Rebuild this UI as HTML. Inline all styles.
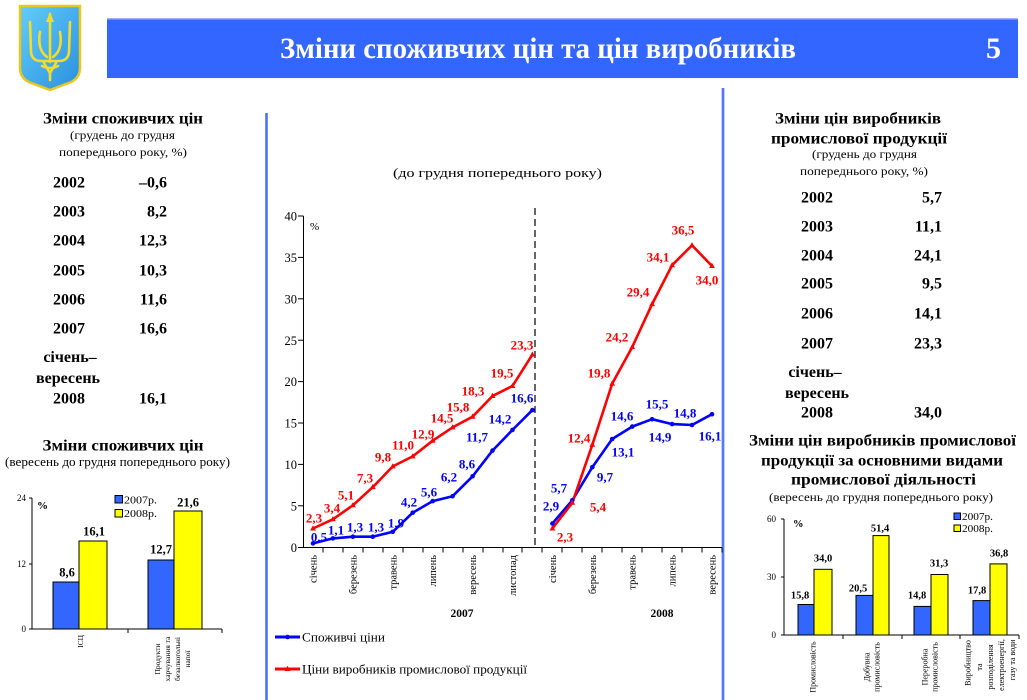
<!DOCTYPE html>
<html><head><meta charset="utf-8">
<style>
html,body{margin:0;padding:0;background:#fff;}
svg{display:block;}
text{font-family:"Liberation Serif","Noto Serif CJK SC",serif;}
</style></head>
<body>
<svg width="1027" height="700" viewBox="0 0 1027 700" xmlns="http://www.w3.org/2000/svg">
<defs>
<linearGradient id="sh" x1="0" y1="0" x2="1" y2="1">
<stop offset="0" stop-color="#62cdf7"/><stop offset="1" stop-color="#2a8fe0"/>
</linearGradient>
<linearGradient id="vl" x1="0" y1="0" x2="1" y2="0">
<stop offset="0" stop-color="#8ea8ff"/><stop offset="0.5" stop-color="#3a62ff"/><stop offset="1" stop-color="#8ea8ff"/>
</linearGradient>
<path id="tri" d="M0,-3.2 L2.9,2 L-2.9,2 Z"/>
</defs>
<rect width="1027" height="700" fill="#fff"/>

<!-- coat of arms -->
<path d="M20,6 L80,6 L80,68 Q80,80 66,84 L50,90 L34,84 Q20,80 20,68 Z" fill="url(#sh)" stroke="#e9c81e" stroke-width="2.5"/>
<g fill="none" stroke="#f4dc2a" stroke-width="2.6" stroke-linecap="round" stroke-linejoin="round">
<path d="M50,14 L50,62"/>
<path d="M30,22 L31,52 Q32,61 41,61 L59,61 Q68,61 69,52 L70,22"/>
<path d="M40,32 Q37,50 47,57"/>
<path d="M60,32 Q63,50 53,57"/>
<path d="M44,63 L50,73 L56,63"/>
<path d="M50,73 L50,80"/>
<path d="M42,66 Q50,70 58,66"/>
</g>
<path d="M50,12 L46,22 L54,22 Z" fill="#f4dc2a"/>

<!-- header banner -->
<rect x="107" y="18" width="911" height="60" fill="#3366ff"/>
<rect x="107" y="18" width="911" height="1.5" fill="#9fb4ff"/>
<text x="280" y="58" font-size="30" font-weight="bold" fill="#fff" textLength="516" lengthAdjust="spacingAndGlyphs">Зміни споживчих цін та цін виробників</text>
<text x="986" y="58" font-size="30" font-weight="bold" fill="#fff">5</text>

<!-- vertical dividers -->
<rect x="265" y="113" width="3" height="587" fill="url(#vl)"/>
<rect x="721.5" y="88" width="3" height="612" fill="url(#vl)"/>

<!-- LEFT TABLE -->
<text x="123" y="123.5" font-size="16" font-weight="bold" text-anchor="middle" textLength="160" lengthAdjust="spacingAndGlyphs">Зміни споживчих цін</text>
<text x="122.5" y="139" font-size="12" text-anchor="middle" textLength="105" lengthAdjust="spacingAndGlyphs">(грудень до грудня</text>
<text x="123" y="156" font-size="12" text-anchor="middle" textLength="128" lengthAdjust="spacingAndGlyphs">попереднього року, %)</text>
<g font-size="16" font-weight="bold">
<g text-anchor="middle">
<text x="69" y="187.5">2002</text>
<text x="69" y="216.5">2003</text>
<text x="69" y="245.5">2004</text>
<text x="69" y="275.5">2005</text>
<text x="69" y="304.5">2006</text>
<text x="69" y="333.5">2007</text>
<text x="70" y="362">січень–</text>
<text x="68" y="383">вересень</text>
<text x="69" y="403.5">2008</text>
</g>
<g text-anchor="end">
<text x="167" y="187.5">–0,6</text>
<text x="167" y="216.5">8,2</text>
<text x="167" y="245.5">12,3</text>
<text x="167" y="275.5">10,3</text>
<text x="167" y="304.5">11,6</text>
<text x="167" y="333.5">16,6</text>
<text x="167" y="403.5">16,1</text>
</g>
</g>

<!-- LEFT BOTTOM CHART -->
<text x="123" y="450.5" font-size="16" font-weight="bold" text-anchor="middle" textLength="161" lengthAdjust="spacingAndGlyphs">Зміни споживчих цін</text>
<text x="117.5" y="466" font-size="12.5" text-anchor="middle" textLength="225" lengthAdjust="spacingAndGlyphs">(вересень до грудня попереднього року)</text>
<g stroke="#000" stroke-width="1">
<line x1="32" y1="498" x2="32" y2="629"/>
<line x1="32" y1="629" x2="222" y2="629"/>
<line x1="29" y1="498" x2="32" y2="498"/>
<line x1="29" y1="564" x2="32" y2="564"/>
<line x1="29" y1="629" x2="32" y2="629"/>
<line x1="128" y1="629" x2="128" y2="633"/>
<line x1="222" y1="629" x2="222" y2="633"/>
</g>
<g font-size="9" text-anchor="end">
<text x="26" y="501">24</text>
<text x="26" y="567">12</text>
<text x="26" y="632">0</text>
</g>
<text x="37" y="509" font-size="11" font-weight="bold">%</text>
<g stroke="#000" stroke-width="1">
<rect x="53" y="582" width="26" height="47" fill="#3366ff"/>
<rect x="79" y="541" width="28" height="88" fill="#ffff00"/>
<rect x="148" y="560" width="26" height="69" fill="#3366ff"/>
<rect x="174" y="511" width="28" height="118" fill="#ffff00"/>
<rect x="115" y="495.5" width="7.5" height="7.5" fill="#3366ff"/>
<rect x="115" y="509.5" width="7.5" height="7.5" fill="#ffff00"/>
</g>
<g font-size="10.5">
<text x="124" y="503.5" textLength="33" lengthAdjust="spacingAndGlyphs">2007р.</text>
<text x="124" y="517" textLength="33" lengthAdjust="spacingAndGlyphs">2008р.</text>
</g>
<g font-size="12.5" font-weight="bold" text-anchor="middle">
<text x="67" y="576.5">8,6</text>
<text x="94" y="535.5">16,1</text>
<text x="161" y="553.5">12,7</text>
<text x="188" y="506.5">21,6</text>
</g>
<g font-size="7.5">
<text transform="translate(83,635) rotate(-90)" text-anchor="end">ІСЦ</text>
<text transform="translate(160,659) rotate(-90)" text-anchor="middle">Продукти</text>
<text transform="translate(170,659) rotate(-90)" text-anchor="middle">харчування та</text>
<text transform="translate(180,659) rotate(-90)" text-anchor="middle">безалкогольні</text>
<text transform="translate(190,659) rotate(-90)" text-anchor="middle">напої</text>
</g>

<!-- CENTER CHART -->
<text x="497.5" y="177" font-size="13" text-anchor="middle" textLength="209" lengthAdjust="spacingAndGlyphs">(до грудня попереднього року)</text>
<g stroke="#000" stroke-width="1">
<line x1="303.5" y1="216" x2="303.5" y2="547.5"/>
<line x1="303.5" y1="547.5" x2="722" y2="547.5"/>
<line x1="298" y1="216" x2="303.5" y2="216"/>
<line x1="298" y1="257.4" x2="303.5" y2="257.4"/>
<line x1="298" y1="298.8" x2="303.5" y2="298.8"/>
<line x1="298" y1="340.2" x2="303.5" y2="340.2"/>
<line x1="298" y1="381.6" x2="303.5" y2="381.6"/>
<line x1="298" y1="423" x2="303.5" y2="423"/>
<line x1="298" y1="464.4" x2="303.5" y2="464.4"/>
<line x1="298" y1="505.8" x2="303.5" y2="505.8"/>
<line x1="298" y1="547.5" x2="303.5" y2="547.5"/>
<path d="M323,547.5v5M343,547.5v5M363,547.5v5M383,547.5v5M403,547.5v5M423,547.5v5M443,547.5v5M463,547.5v5M483,547.5v5M503,547.5v5M522,547.5v5M542,547.5v5M562,547.5v5M582,547.5v5M602,547.5v5M622,547.5v5M642,547.5v5M662,547.5v5M682,547.5v5M702,547.5v5M722,547.5v5"/>
</g>
<line x1="535" y1="208" x2="535" y2="547" stroke="#000" stroke-width="1.2" stroke-dasharray="7,4"/>
<g font-size="12.5" text-anchor="end">
<text x="297" y="220.5">40</text>
<text x="297" y="262">35</text>
<text x="297" y="303.5">30</text>
<text x="297" y="345">25</text>
<text x="297" y="386">20</text>
<text x="297" y="427.5">15</text>
<text x="297" y="469">10</text>
<text x="297" y="510.5">5</text>
<text x="297" y="552">0</text>
</g>
<text x="310" y="230" font-size="11">%</text>

<!-- series lines -->
<g fill="none" stroke-width="2.6" stroke-linejoin="round">
<polyline stroke="#ff0000" points="313,528.5 332.9,519.3 352.9,505.3 372.8,487.1 392.8,466.4 412.7,456.4 432.7,440.7 452.6,427.4 472.6,416.7 492.5,396 512.5,386 532.4,354.6"/>
<polyline stroke="#0000ff" points="313,543.4 332.9,538.4 352.9,536.7 372.8,536.7 392.8,531.8 412.7,512.7 432.7,501.1 452.6,496.2 472.6,476.3 492.5,450.6 512.5,429.9 532.4,410.1"/>
<polyline stroke="#0000ff" points="552.4,523.5 572.3,500.3 592.3,467.2 612.2,439 632.2,426.6 652.1,419.2 672.1,424.1 692,425 712,414.2"/>
<polyline stroke="#ff0000" points="552.4,528.5 572.3,502.8 592.3,444.8 612.2,383.6 632.2,347.1 652.1,304.1 672.1,265.2 692,245.3 712,266"/>
</g>
<g fill="#0000ff">
<circle cx="313" cy="543.4" r="2.3"/><circle cx="332.9" cy="538.4" r="2.3"/><circle cx="352.9" cy="536.7" r="2.3"/><circle cx="372.8" cy="536.7" r="2.3"/><circle cx="392.8" cy="531.8" r="2.3"/><circle cx="412.7" cy="512.7" r="2.3"/><circle cx="432.7" cy="501.1" r="2.3"/><circle cx="452.6" cy="496.2" r="2.3"/><circle cx="472.6" cy="476.3" r="2.3"/><circle cx="492.5" cy="450.6" r="2.3"/><circle cx="512.5" cy="429.9" r="2.3"/><circle cx="532.4" cy="410.1" r="2.3"/>
<circle cx="552.4" cy="523.5" r="2.3"/><circle cx="572.3" cy="500.3" r="2.3"/><circle cx="592.3" cy="467.2" r="2.3"/><circle cx="612.2" cy="439" r="2.3"/><circle cx="632.2" cy="426.6" r="2.3"/><circle cx="652.1" cy="419.2" r="2.3"/><circle cx="672.1" cy="424.1" r="2.3"/><circle cx="692" cy="425" r="2.3"/><circle cx="712" cy="414.2" r="2.3"/>
</g>
<g fill="#ff0000">
<use href="#tri" x="313" y="528.5"/><use href="#tri" x="332.9" y="519.3"/><use href="#tri" x="352.9" y="505.3"/><use href="#tri" x="372.8" y="487.1"/><use href="#tri" x="392.8" y="466.4"/><use href="#tri" x="412.7" y="456.4"/><use href="#tri" x="432.7" y="440.7"/><use href="#tri" x="452.6" y="427.4"/><use href="#tri" x="472.6" y="416.7"/><use href="#tri" x="492.5" y="396"/><use href="#tri" x="512.5" y="386"/><use href="#tri" x="532.4" y="354.6"/>
<use href="#tri" x="552.4" y="528.5"/><use href="#tri" x="572.3" y="502.8"/><use href="#tri" x="592.3" y="444.8"/><use href="#tri" x="612.2" y="383.6"/><use href="#tri" x="632.2" y="347.1"/><use href="#tri" x="652.1" y="304.1"/><use href="#tri" x="672.1" y="265.2"/><use href="#tri" x="692" y="245.3"/><use href="#tri" x="712" y="266"/>
</g>

<!-- data labels -->
<g font-size="13" font-weight="bold" text-anchor="middle" fill="#ff0000">
<text x="314" y="522.5">2,3</text>
<text x="332" y="512.5">3,4</text>
<text x="346" y="499.5">5,1</text>
<text x="365" y="482.5">7,3</text>
<text x="383" y="461.5">9,8</text>
<text x="403" y="449.5">11,0</text>
<text x="423" y="438.5">12,9</text>
<text x="442" y="422.5">14,5</text>
<text x="458" y="411.5">15,8</text>
<text x="473" y="395.5">18,3</text>
<text x="502" y="377.5">19,5</text>
<text x="522" y="349.5">23,3</text>
<text x="565" y="541.5">2,3</text>
<text x="598" y="511.5">5,4</text>
<text x="579" y="442.5">12,4</text>
<text x="599" y="377.5">19,8</text>
<text x="617" y="341.5">24,2</text>
<text x="638" y="296.5">29,4</text>
<text x="658" y="261.5">34,1</text>
<text x="683" y="234.5">36,5</text>
<text x="707" y="284.5">34,0</text>
</g>
<g font-size="13" font-weight="bold" text-anchor="middle" fill="#0000ff">
<text x="319" y="541.5">0,5</text>
<text x="336" y="534.5">1,1</text>
<text x="355" y="531.5">1,3</text>
<text x="376" y="531.5">1,3</text>
<text x="396" y="527.5">1,9</text>
<text x="409" y="506.5">4,2</text>
<text x="429" y="496.5">5,6</text>
<text x="449" y="481.5">6,2</text>
<text x="467" y="468.5">8,6</text>
<text x="477" y="441.5">11,7</text>
<text x="500" y="423.5">14,2</text>
<text x="522" y="402.5">16,6</text>
<text x="551" y="510.5">2,9</text>
<text x="559" y="492.5">5,7</text>
<text x="605" y="481.5">9,7</text>
<text x="623" y="456.5">13,1</text>
<text x="622" y="420.5">14,6</text>
<text x="657" y="408.5">15,5</text>
<text x="660" y="441.5">14,9</text>
<text x="685" y="417.5">14,8</text>
<text x="710" y="440.5">16,1</text>
</g>

<!-- x category labels -->
<g font-size="10.5" text-anchor="end">
<text transform="translate(316.5,555) rotate(-90)">січень</text>
<text transform="translate(356.4,555) rotate(-90)">березень</text>
<text transform="translate(396.3,555) rotate(-90)">травень</text>
<text transform="translate(436.2,555) rotate(-90)">липень</text>
<text transform="translate(476.1,555) rotate(-90)">вересень</text>
<text transform="translate(516,555) rotate(-90)">листопад</text>
<text transform="translate(555.9,555) rotate(-90)">січень</text>
<text transform="translate(595.8,555) rotate(-90)">березень</text>
<text transform="translate(635.7,555) rotate(-90)">травень</text>
<text transform="translate(675.6,555) rotate(-90)">липень</text>
<text transform="translate(715.5,555) rotate(-90)">вересень</text>
</g>
<g font-size="11.5" font-weight="bold" text-anchor="middle">
<text x="462" y="617">2007</text>
<text x="662" y="617">2008</text>
</g>

<!-- legend -->
<line x1="275" y1="637" x2="300" y2="637" stroke="#0000ff" stroke-width="3"/>
<circle cx="287.5" cy="637" r="2.3" fill="#0000ff"/>
<text x="302" y="641.5" font-size="13" textLength="83" lengthAdjust="spacingAndGlyphs">Споживчі ціни</text>
<line x1="275" y1="669" x2="300" y2="669" stroke="#ff0000" stroke-width="3"/>
<use href="#tri" x="287.5" y="669" fill="#ff0000"/>
<text x="302" y="673.5" font-size="13" textLength="225" lengthAdjust="spacingAndGlyphs">Ціни виробників промислової продукції</text>

<!-- RIGHT TABLE -->
<g font-weight="bold" text-anchor="middle">
<text x="858" y="123.5" font-size="16" textLength="166" lengthAdjust="spacingAndGlyphs">Зміни цін виробників</text>
<text x="859" y="143.5" font-size="16" textLength="176" lengthAdjust="spacingAndGlyphs">промислової продукції</text>
</g>
<text x="864.5" y="158" font-size="12" text-anchor="middle" textLength="105" lengthAdjust="spacingAndGlyphs">(грудень до грудня</text>
<text x="864" y="175" font-size="12" text-anchor="middle" textLength="128" lengthAdjust="spacingAndGlyphs">попереднього року, %)</text>
<g font-size="16" font-weight="bold">
<g text-anchor="middle">
<text x="817" y="202.5">2002</text>
<text x="817" y="231.5">2003</text>
<text x="817" y="260.5">2004</text>
<text x="817" y="288.5">2005</text>
<text x="817" y="318.5">2006</text>
<text x="817" y="348.5">2007</text>
<text x="815" y="377">січень–</text>
<text x="817" y="398">вересень</text>
<text x="817" y="417.5">2008</text>
</g>
<g text-anchor="end">
<text x="942" y="202.5">5,7</text>
<text x="942" y="231.5">11,1</text>
<text x="942" y="260.5">24,1</text>
<text x="942" y="288.5">9,5</text>
<text x="942" y="318.5">14,1</text>
<text x="942" y="348.5">23,3</text>
<text x="942" y="417.5">34,0</text>
</g>
</g>

<!-- RIGHT BOTTOM CHART -->
<g font-size="16" font-weight="bold" text-anchor="middle">
<text x="882.5" y="445.5" textLength="267" lengthAdjust="spacingAndGlyphs">Зміни цін виробників промислової</text>
<text x="882" y="465.5" textLength="242" lengthAdjust="spacingAndGlyphs">продукції за основними видами</text>
<text x="883.5" y="484.5" textLength="185" lengthAdjust="spacingAndGlyphs">промислової діяльності</text>
</g>
<text x="881" y="501" font-size="12" text-anchor="middle" textLength="224" lengthAdjust="spacingAndGlyphs">(вересень до грудня попереднього року)</text>
<g stroke="#000" stroke-width="1">
<line x1="784" y1="519" x2="784" y2="635"/>
<line x1="784" y1="635" x2="1019" y2="635"/>
<line x1="781" y1="519" x2="784" y2="519"/>
<line x1="781" y1="577" x2="784" y2="577"/>
<line x1="781" y1="635" x2="784" y2="635"/>
<path d="M843,635v4M902,635v4M960,635v4M1019,635v4"/>
</g>
<g font-size="9" text-anchor="end">
<text x="776" y="522">60</text>
<text x="776" y="580">30</text>
<text x="776" y="638">0</text>
</g>
<text x="793" y="527" font-size="10.5" font-weight="bold">%</text>
<g stroke="#000" stroke-width="1">
<rect x="798" y="604.5" width="16" height="30.5" fill="#3366ff"/>
<rect x="814" y="569.3" width="18" height="65.7" fill="#ffff00"/>
<rect x="856" y="595.4" width="17" height="39.6" fill="#3366ff"/>
<rect x="873" y="535.6" width="16" height="99.4" fill="#ffff00"/>
<rect x="914" y="606.4" width="17" height="28.6" fill="#3366ff"/>
<rect x="931" y="574.5" width="17" height="60.5" fill="#ffff00"/>
<rect x="973" y="600.6" width="17" height="34.4" fill="#3366ff"/>
<rect x="990" y="563.9" width="17" height="71.1" fill="#ffff00"/>
<rect x="954" y="513" width="6.5" height="6.5" fill="#3366ff"/>
<rect x="954" y="525" width="6.5" height="6.5" fill="#ffff00"/>
</g>
<g font-size="10.5">
<text x="962" y="520" textLength="31" lengthAdjust="spacingAndGlyphs">2007р.</text>
<text x="962" y="532" textLength="31" lengthAdjust="spacingAndGlyphs">2008р.</text>
</g>
<g font-size="10.5" font-weight="bold" text-anchor="middle">
<text x="800" y="598.5">15,8</text>
<text x="823" y="561.5">34,0</text>
<text x="858" y="591.5">20,5</text>
<text x="880" y="531.5">51,4</text>
<text x="917" y="598.5">14,8</text>
<text x="939" y="566.5">31,3</text>
<text x="977" y="593.5">17,8</text>
<text x="999" y="556.5">36,8</text>
</g>
<g font-size="8" text-anchor="middle">
<text transform="translate(815.5,667) rotate(-90)">Промисловість</text>
<text transform="translate(869.5,667) rotate(-90)">Добувна</text>
<text transform="translate(879.5,667) rotate(-90)">промисловість</text>
<text transform="translate(927.5,667) rotate(-90)">Переробна</text>
<text transform="translate(937.5,667) rotate(-90)">промисловість</text>
<text transform="translate(970.5,663) rotate(-90)">Виробництво</text>
<text transform="translate(982,667) rotate(-90)">та</text>
<text transform="translate(993,667) rotate(-90)">розподілення</text>
<text transform="translate(1004,665) rotate(-90)">електроенергії,</text>
<text transform="translate(1015,660) rotate(-90)">газу та води</text>
</g>
</svg>
</body></html>
